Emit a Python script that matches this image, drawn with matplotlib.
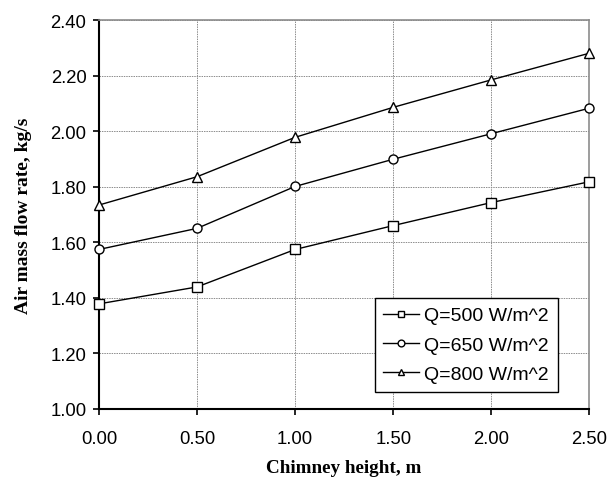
import numpy as np
import matplotlib
matplotlib.use("Agg")
import matplotlib.pyplot as plt

# chimney height (m) and air mass flow rate (kg/s) for three insolation levels
height = [0.0, 0.5, 1.0, 1.5, 2.0, 2.5]
q500 = [1.378, 1.439, 1.574, 1.660, 1.743, 1.818]
q650 = [1.574, 1.650, 1.801, 1.899, 1.991, 2.083]
q800 = [1.734, 1.836, 1.978, 2.086, 2.185, 2.281]
labels = ["Q=500 W/m^2", "Q=650 W/m^2", "Q=800 W/m^2"]
xticks = [0.0, 0.5, 1.0, 1.5, 2.0, 2.5]
yticks = [1.0, 1.2, 1.4, 1.6, 1.8, 2.0, 2.2, 2.4]

plt.rcParams["font.family"] = ["Liberation Sans", "DejaVu Sans"]

fig = plt.figure(figsize=(6.07, 4.81), dpi=100)
ax = fig.add_axes([0.163, 0.148, 0.808, 0.808])

for ys, mk, lab in zip([q500, q650, q800], ["s", "o", "^"], labels):
    ax.plot(height, ys, color="black", lw=1.0, marker=mk, ms=6.5,
            mfc="white", mec="black", mew=1.0, label=lab, clip_on=False, zorder=3)

ax.set_xlim(0, 2.5)
ax.set_ylim(1.0, 2.4)
ax.set_xticks(xticks)
ax.set_yticks(yticks)
ax.set_xticklabels(["%.2f" % v for v in xticks])
ax.set_yticklabels(["%.2f" % v for v in yticks])
ax.tick_params(labelsize=13.3, direction="out", length=4, width=1.2, color="black")
ax.tick_params(axis="x", pad=11)
ax.tick_params(axis="y", pad=5)
ax.grid(True, color="0.55", lw=0.7, ls=(0, (1.5, 1)))
ax.set_axisbelow(True)

for s in ["left", "bottom"]:
    ax.spines[s].set_color("black")
    ax.spines[s].set_linewidth(1.5)
for s in ["top", "right"]:
    ax.spines[s].set_color("0.55")
    ax.spines[s].set_linewidth(1.2)

ax.set_xlabel("Chimney height, m", family="Liberation Serif", fontweight="bold",
              fontsize=13.8, labelpad=9)
ax.set_ylabel("Air mass flow rate, kg/s", family="Liberation Serif", fontweight="bold",
              fontsize=14, labelpad=13)

leg = ax.legend(loc="lower right", bbox_to_anchor=(0.935, 0.044), fontsize=14,
                frameon=True, fancybox=False, edgecolor="black", framealpha=1,
                handlelength=1.85, handletextpad=0.25, borderpad=0.45, labelspacing=0.6,
                borderaxespad=0, markerscale=0.75)
leg.get_frame().set_linewidth(1.0)

fig.savefig("out.png", dpi=100)
